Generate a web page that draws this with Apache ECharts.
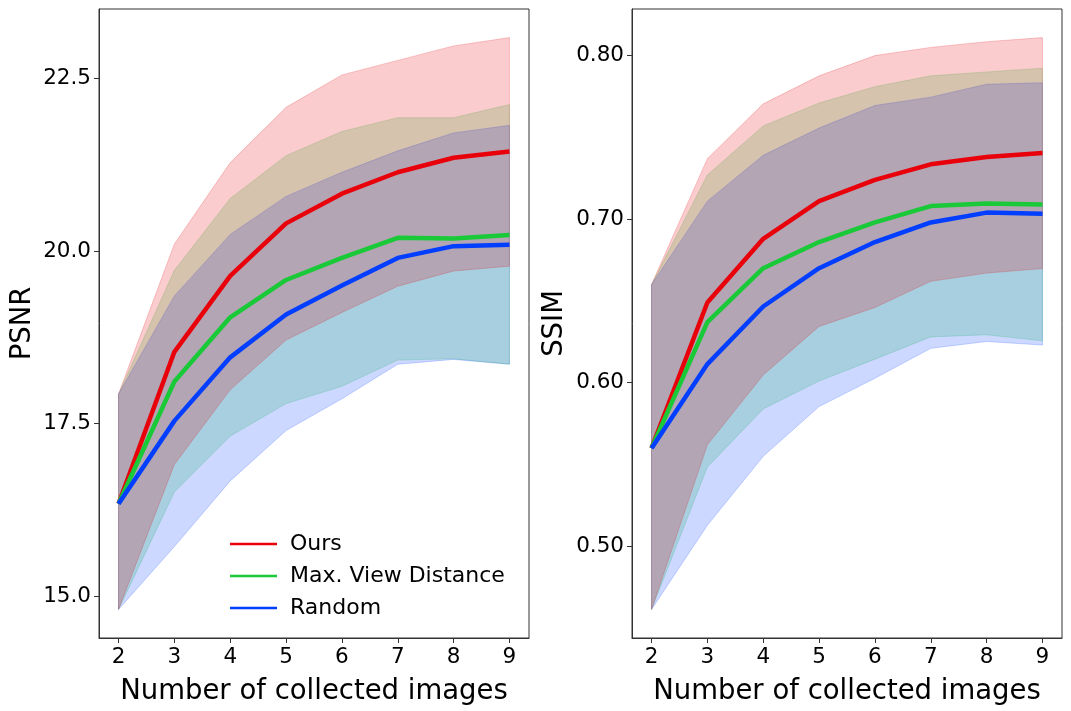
<!DOCTYPE html>
<html>
<head>
    <meta charset="UTF-8">
    <title>PSNR / SSIM</title>
    <script src="https://cdn.jsdelivr.net/npm/echarts@6/dist/echarts.min.js"></script>
    <style>
        html, body { margin: 0; padding: 0; background: #fff; }
        #main { width: 1071px; height: 711px; }
    </style>
</head>
<body>
<div id="main"></div>
<script type="text/javascript">
    // x: number of collected images
    var steps = [2, 3, 4, 5, 6, 7, 8, 9];
    var names = ['Ours', 'Max. View Distance', 'Random'];
    var colors = ['#e8000b', '#1ac938', '#023eff'];

    // PSNR (mean, upper, lower)
    var psnrOurs = [16.34, 18.54, 19.64, 20.40, 20.83, 21.14, 21.35, 21.44];
    var psnrMaxView = [16.34, 18.11, 19.04, 19.58, 19.90, 20.19, 20.18, 20.23];
    var psnrRandom = [16.34, 17.54, 18.46, 19.08, 19.50, 19.90, 20.07, 20.09];
    var psnrOursUpper = [17.93, 20.10, 21.28, 22.08, 22.55, 22.76, 22.97, 23.09];
    var psnrOursLower = [14.81, 16.91, 17.99, 18.71, 19.11, 19.49, 19.71, 19.78];
    var psnrMaxViewUpper = [17.93, 19.72, 20.76, 21.38, 21.73, 21.93, 21.93, 22.12];
    var psnrMaxViewLower = [14.81, 16.51, 17.32, 17.79, 18.04, 18.42, 18.44, 18.36];
    var psnrRandomUpper = [17.93, 19.35, 20.24, 20.79, 21.14, 21.45, 21.71, 21.82];
    var psnrRandomLower = [14.81, 15.72, 16.67, 17.40, 17.86, 18.36, 18.43, 18.36];
    var psnrTicks = [15.0, 17.5, 20.0, 22.5];

    // SSIM (mean, upper, lower)
    var ssimOurs = [0.560, 0.649, 0.688, 0.711, 0.724, 0.7335, 0.738, 0.7405];
    var ssimMaxView = [0.560, 0.637, 0.670, 0.686, 0.698, 0.708, 0.7096, 0.709];
    var ssimRandom = [0.560, 0.6114, 0.6466, 0.670, 0.686, 0.698, 0.704, 0.7033];
    var ssimOursUpper = [0.660, 0.737, 0.7705, 0.7876, 0.800, 0.805, 0.8085, 0.811];
    var ssimOursLower = [0.4614, 0.562, 0.6047, 0.6344, 0.646, 0.662, 0.667, 0.6698];
    var ssimMaxViewUpper = [0.660, 0.727, 0.757, 0.771, 0.781, 0.7876, 0.790, 0.7923];
    var ssimMaxViewLower = [0.4614, 0.5484, 0.584, 0.601, 0.6144, 0.628, 0.6293, 0.6256];
    var ssimRandomUpper = [0.660, 0.711, 0.739, 0.7557, 0.7695, 0.7746, 0.7825, 0.7834];
    var ssimRandomLower = [0.4614, 0.5128, 0.555, 0.5854, 0.6027, 0.621, 0.6252, 0.623];
    var ssimTicks = [0.50, 0.60, 0.70, 0.80];

    var font = 'DejaVu Sans';

    function pairs(ys) {
        return ys.map(function (y, i) { return [steps[i], y]; });
    }

    // matplotlib-like 5% margins
    function range(lows, highs) {
        var lo = Math.min.apply(null, [].concat.apply([], lows));
        var hi = Math.max.apply(null, [].concat.apply([], highs));
        var pad = (hi - lo) * 0.05;
        return [lo - pad, hi + pad];
    }

    // fill_between: polygon through upper then lower (reversed), via axis coords
    function bandSeries(idx, k, lower, upper) {
        var c = colors[k];
        return {
            type: 'custom', xAxisIndex: idx, yAxisIndex: idx, silent: true, z: 1,
            data: [[steps[0], upper[0]]],
            renderItem: function (params, api) {
                var pts = [];
                for (var i = 0; i < steps.length; i++) pts.push(api.coord([steps[i], upper[i]]));
                for (var j = steps.length - 1; j >= 0; j--) pts.push(api.coord([steps[j], lower[j]]));
                return {
                    type: 'polygon',
                    shape: { points: pts },
                    style: { fill: c, stroke: c, lineWidth: 1, opacity: 0.2 }
                };
            }
        };
    }

    function lineSeries(idx, k, mean) {
        return {
            name: names[k], type: 'line', xAxisIndex: idx, yAxisIndex: idx,
            data: pairs(mean), showSymbol: false, z: 5,
            color: colors[k],
            lineStyle: { color: colors[k], width: 4.5 }
        };
    }

    var psnrRange = range([psnrOursLower, psnrMaxViewLower, psnrRandomLower],
        [psnrOursUpper, psnrMaxViewUpper, psnrRandomUpper]);
    var ssimRange = range([ssimOursLower, ssimMaxViewLower, ssimRandomLower],
        [ssimOursUpper, ssimMaxViewUpper, ssimRandomUpper]);

    function xAxis(idx) {
        return {
            type: 'value', gridIndex: idx, min: 1.65, max: 9.35,
            name: 'Number of collected images', nameLocation: 'middle', nameGap: 40,
            nameTextStyle: { fontFamily: font, fontSize: 27.5, color: '#000' },
            axisLine: { lineStyle: { color: '#333', width: 1 } },
            axisTick: { customValues: steps, length: 5, lineStyle: { color: '#333' } },
            axisLabel: { customValues: steps, fontFamily: font, fontSize: 21.5, color: '#000', margin: 8 },
            splitLine: { show: false }
        };
    }

    function yAxis(idx, name, r, ticks, digits, gap) {
        return {
            type: 'value', gridIndex: idx, min: r[0], max: r[1],
            name: name, nameLocation: 'middle', nameGap: gap,
            nameTextStyle: { fontFamily: font, fontSize: 27.5, color: '#000' },
            axisLine: { show: true, lineStyle: { color: '#333', width: 1 } },
            axisTick: { customValues: ticks, length: 5, lineStyle: { color: '#333' } },
            axisLabel: {
                customValues: ticks, fontFamily: font, fontSize: 21.5, color: '#000', margin: 8,
                formatter: function (v) { return v.toFixed(digits); }
            },
            splitLine: { show: false }
        };
    }

    // bands drawn Max. View -> Random -> Ours (k indexes), lines on top
    var bandOrder = [1, 2, 0];
    var psnrBands = [[psnrOursLower, psnrOursUpper], [psnrMaxViewLower, psnrMaxViewUpper], [psnrRandomLower, psnrRandomUpper]];
    var ssimBands = [[ssimOursLower, ssimOursUpper], [ssimMaxViewLower, ssimMaxViewUpper], [ssimRandomLower, ssimRandomUpper]];
    var series = [];
    bandOrder.forEach(function (k) { series.push(bandSeries(0, k, psnrBands[k][0], psnrBands[k][1])); });
    bandOrder.forEach(function (k) { series.push(bandSeries(1, k, ssimBands[k][0], ssimBands[k][1])); });
    [psnrOurs, psnrMaxView, psnrRandom].forEach(function (m, k) { series.push(lineSeries(0, k, m)); });
    [ssimOurs, ssimMaxView, ssimRandom].forEach(function (m, k) { series.push(lineSeries(1, k, m)); });

    var myChart = echarts.init(document.getElementById('main'));
    myChart.setOption({
        animation: false,
        backgroundColor: '#fff',
        grid: [
            { left: 99, top: 9, width: 430, height: 630, show: true, borderColor: '#333', borderWidth: 1, backgroundColor: 'transparent' },
            { left: 632, top: 9, width: 430, height: 630, show: true, borderColor: '#333', borderWidth: 1, backgroundColor: 'transparent' }
        ],
        legend: {
            data: names,
            orient: 'vertical',
            left: 225, top: 528,
            icon: 'rect', itemWidth: 47, itemHeight: 2.5, itemGap: 10,
            textStyle: { fontFamily: font, fontSize: 22, color: '#000', padding: [0, 0, 0, 8] }
        },
        xAxis: [xAxis(0), xAxis(1)],
        yAxis: [
            yAxis(0, 'PSNR', psnrRange, psnrTicks, 1, 62),
            yAxis(1, 'SSIM', ssimRange, ssimTicks, 2, 63)
        ],
        series: series
    });
</script>
</body>
</html>
